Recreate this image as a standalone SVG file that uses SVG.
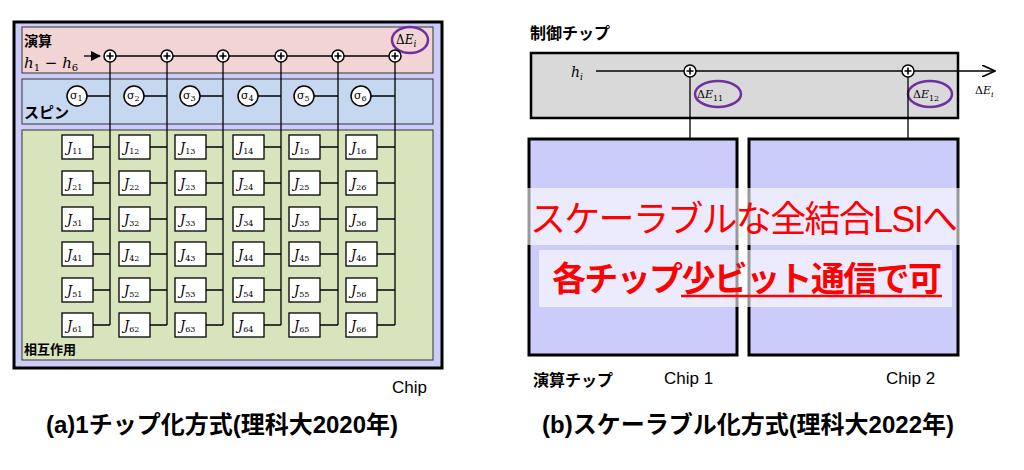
<svg xmlns="http://www.w3.org/2000/svg" width="1024" height="470" viewBox="0 0 1024 470">
<style>
.jp{font-family:"Liberation Sans","Noto Sans CJK JP",sans-serif}
.b{font-weight:bold}
.m{font-family:"DejaVu Serif","Liberation Serif",serif;font-style:italic}
.m tspan{font-style:normal}
.m tspan.it{font-style:italic}
.ln{stroke:#000;stroke-width:1.3;fill:none}
.jb{fill:#fff;stroke:#000;stroke-width:1.3}
.pl{fill:#fff;stroke:#000;stroke-width:1.5}
.ell{fill:none;stroke:#7030a0;stroke-width:2.5}
</style>
<defs>
<marker id="ar" markerWidth="10" markerHeight="10" refX="9" refY="5" orient="auto" markerUnits="userSpaceOnUse"><path d="M0,0 L10,5 L0,10 z" fill="#000"/></marker>
<marker id="ar2" markerWidth="14" markerHeight="12" refX="13" refY="6" orient="auto" markerUnits="userSpaceOnUse"><path d="M0,0 L13,6 L0,12" fill="none" stroke="#000" stroke-width="1.6"/></marker>
<g id="plus"><circle r="6" class="pl"/><path d="M-3.5,0H3.5M0,-3.5V3.5" stroke="#000" stroke-width="1.6"/></g>
</defs>
<rect width="1024" height="470" fill="#fff"/>
<g id="chipA">
<rect x="14" y="22" width="428" height="346" fill="#ccccf8" stroke="#000" stroke-width="3"/>
<rect x="22" y="27" width="411" height="46" fill="#f2d4d4" stroke="#333" stroke-width="1"/>
<rect x="22" y="79" width="411" height="45" fill="#c6d8f0" stroke="#333" stroke-width="1"/>
<rect x="22" y="130" width="411" height="230" fill="#d8e4bc" stroke="#333" stroke-width="1"/>
<text x="24" y="46" class="jp b" font-size="14">演算</text>
<text x="24" y="68" class="m" font-size="15">h<tspan font-size="10" dy="3">1</tspan><tspan dy="-3"> − </tspan><tspan class="it">h</tspan><tspan font-size="10" dy="3">6</tspan></text>
<text x="24" y="118" class="jp b" font-size="15">スピン</text>
<text x="24" y="354" class="jp b" font-size="13">相互作用</text>
<text x="396" y="44" class="m" font-size="12"><tspan>Δ</tspan>E<tspan class="it" font-size="9" dy="3">i</tspan></text>
<ellipse cx="410" cy="40" rx="18" ry="13" class="ell"/>
<text x="392" y="393" class="jp" font-size="17">Chip</text>
</g>
<g id="ctrl">
<text x="530" y="39" class="jp b" font-size="16">制御チップ</text>
<rect x="531" y="53" width="427" height="65" fill="#d9d9d9" stroke="#000" stroke-width="2.5"/>
<text x="571" y="77" class="m" font-size="14">h<tspan class="it" font-size="9" dy="3">i</tspan></text>
<text x="975" y="94" class="m" font-size="11"><tspan>Δ</tspan>E<tspan class="it" font-size="8" dy="3">i</tspan></text>
<text x="697" y="98" class="m" font-size="11"><tspan>Δ</tspan>E<tspan font-size="8" dy="3">11</tspan></text>
<text x="913" y="98" class="m" font-size="11"><tspan>Δ</tspan>E<tspan font-size="8" dy="3">12</tspan></text>
<ellipse cx="718" cy="94" rx="23" ry="13" class="ell"/>
<ellipse cx="930" cy="94" rx="22" ry="13" class="ell"/>
</g>
<g id="connectors">
<path class="ln" d="M84,56H100" marker-end="url(#ar)"/>
<path class="ln" d="M110,56H395"/>
<path class="ln" d="M110,56V325M167,56V325M223,56V325M281,56V325M338,56V325M395,56V325"/>
<path class="ln" d="M87,96H110M144,96H167M200,96H223M258,96H281M314,96H338M371,96H395"/>
<path class="ln" d="M93,147H110M93,183H110M93,219H110M93,254H110M93,290H110M93,325H110"/>
<path class="ln" d="M150,147H167M150,183H167M150,219H167M150,254H167M150,290H167M150,325H167"/>
<path class="ln" d="M206,147H223M206,183H223M206,219H223M206,254H223M206,290H223M206,325H223"/>
<path class="ln" d="M264,147H281M264,183H281M264,219H281M264,254H281M264,290H281M264,325H281"/>
<path class="ln" d="M320,147H338M320,183H338M320,219H338M320,254H338M320,290H338M320,325H338"/>
<path class="ln" d="M377,147H395M377,183H395M377,219H395M377,254H395M377,290H395M377,325H395"/>
<path class="ln" d="M596,71H995" stroke-width="1.6" marker-end="url(#ar2)"/>
<path class="ln" d="M690,71V138M908,71V138"/>
</g>
<g id="plusA">
<use href="#plus" x="110" y="56"/><use href="#plus" x="167" y="56"/><use href="#plus" x="223" y="56"/><use href="#plus" x="281" y="56"/><use href="#plus" x="338" y="56"/><use href="#plus" x="395" y="56"/>
</g>
<g id="spins" font-family="DejaVu Serif,serif" font-size="11">
<g id="s1"><circle cx="77" cy="96" r="10" class="pl"/><text x="70" y="99">σ<tspan font-size="8" dy="2">1</tspan></text></g>
<g id="s2"><circle cx="134" cy="96" r="10" class="pl"/><text x="127" y="99">σ<tspan font-size="8" dy="2">2</tspan></text></g>
<g id="s3"><circle cx="190" cy="96" r="10" class="pl"/><text x="183" y="99">σ<tspan font-size="8" dy="2">3</tspan></text></g>
<g id="s4"><circle cx="248" cy="96" r="10" class="pl"/><text x="241" y="99">σ<tspan font-size="8" dy="2">4</tspan></text></g>
<g id="s5"><circle cx="304" cy="96" r="10" class="pl"/><text x="297" y="99">σ<tspan font-size="8" dy="2">5</tspan></text></g>
<g id="s6"><circle cx="361" cy="96" r="10" class="pl"/><text x="354" y="99">σ<tspan font-size="8" dy="2">6</tspan></text></g>
</g>
<g id="Jgrid" class="m" font-size="13">
<g id="J1">
<rect x="62" y="135" width="31" height="24" class="jb"/><text x="67" y="152">J<tspan font-size="8" dy="2">11</tspan></text>
<rect x="119" y="135" width="31" height="24" class="jb"/><text x="124" y="152">J<tspan font-size="8" dy="2">12</tspan></text>
<rect x="175" y="135" width="31" height="24" class="jb"/><text x="180" y="152">J<tspan font-size="8" dy="2">13</tspan></text>
<rect x="233" y="135" width="31" height="24" class="jb"/><text x="238" y="152">J<tspan font-size="8" dy="2">14</tspan></text>
<rect x="289" y="135" width="31" height="24" class="jb"/><text x="294" y="152">J<tspan font-size="8" dy="2">15</tspan></text>
<rect x="346" y="135" width="31" height="24" class="jb"/><text x="351" y="152">J<tspan font-size="8" dy="2">16</tspan></text>
</g>
<g id="J2">
<rect x="62" y="171" width="31" height="24" class="jb"/><text x="67" y="188">J<tspan font-size="8" dy="2">21</tspan></text>
<rect x="119" y="171" width="31" height="24" class="jb"/><text x="124" y="188">J<tspan font-size="8" dy="2">22</tspan></text>
<rect x="175" y="171" width="31" height="24" class="jb"/><text x="180" y="188">J<tspan font-size="8" dy="2">23</tspan></text>
<rect x="233" y="171" width="31" height="24" class="jb"/><text x="238" y="188">J<tspan font-size="8" dy="2">24</tspan></text>
<rect x="289" y="171" width="31" height="24" class="jb"/><text x="294" y="188">J<tspan font-size="8" dy="2">25</tspan></text>
<rect x="346" y="171" width="31" height="24" class="jb"/><text x="351" y="188">J<tspan font-size="8" dy="2">26</tspan></text>
</g>
<g id="J3">
<rect x="62" y="207" width="31" height="24" class="jb"/><text x="67" y="224">J<tspan font-size="8" dy="2">31</tspan></text>
<rect x="119" y="207" width="31" height="24" class="jb"/><text x="124" y="224">J<tspan font-size="8" dy="2">32</tspan></text>
<rect x="175" y="207" width="31" height="24" class="jb"/><text x="180" y="224">J<tspan font-size="8" dy="2">33</tspan></text>
<rect x="233" y="207" width="31" height="24" class="jb"/><text x="238" y="224">J<tspan font-size="8" dy="2">34</tspan></text>
<rect x="289" y="207" width="31" height="24" class="jb"/><text x="294" y="224">J<tspan font-size="8" dy="2">35</tspan></text>
<rect x="346" y="207" width="31" height="24" class="jb"/><text x="351" y="224">J<tspan font-size="8" dy="2">36</tspan></text>
</g>
<g id="J4">
<rect x="62" y="242" width="31" height="24" class="jb"/><text x="67" y="259">J<tspan font-size="8" dy="2">41</tspan></text>
<rect x="119" y="242" width="31" height="24" class="jb"/><text x="124" y="259">J<tspan font-size="8" dy="2">42</tspan></text>
<rect x="175" y="242" width="31" height="24" class="jb"/><text x="180" y="259">J<tspan font-size="8" dy="2">43</tspan></text>
<rect x="233" y="242" width="31" height="24" class="jb"/><text x="238" y="259">J<tspan font-size="8" dy="2">44</tspan></text>
<rect x="289" y="242" width="31" height="24" class="jb"/><text x="294" y="259">J<tspan font-size="8" dy="2">45</tspan></text>
<rect x="346" y="242" width="31" height="24" class="jb"/><text x="351" y="259">J<tspan font-size="8" dy="2">46</tspan></text>
</g>
<g id="J5">
<rect x="62" y="278" width="31" height="24" class="jb"/><text x="67" y="295">J<tspan font-size="8" dy="2">51</tspan></text>
<rect x="119" y="278" width="31" height="24" class="jb"/><text x="124" y="295">J<tspan font-size="8" dy="2">52</tspan></text>
<rect x="175" y="278" width="31" height="24" class="jb"/><text x="180" y="295">J<tspan font-size="8" dy="2">53</tspan></text>
<rect x="233" y="278" width="31" height="24" class="jb"/><text x="238" y="295">J<tspan font-size="8" dy="2">54</tspan></text>
<rect x="289" y="278" width="31" height="24" class="jb"/><text x="294" y="295">J<tspan font-size="8" dy="2">55</tspan></text>
<rect x="346" y="278" width="31" height="24" class="jb"/><text x="351" y="295">J<tspan font-size="8" dy="2">56</tspan></text>
</g>
<g id="J6">
<rect x="62" y="313" width="31" height="24" class="jb"/><text x="67" y="330">J<tspan font-size="8" dy="2">61</tspan></text>
<rect x="119" y="313" width="31" height="24" class="jb"/><text x="124" y="330">J<tspan font-size="8" dy="2">62</tspan></text>
<rect x="175" y="313" width="31" height="24" class="jb"/><text x="180" y="330">J<tspan font-size="8" dy="2">63</tspan></text>
<rect x="233" y="313" width="31" height="24" class="jb"/><text x="238" y="330">J<tspan font-size="8" dy="2">64</tspan></text>
<rect x="289" y="313" width="31" height="24" class="jb"/><text x="294" y="330">J<tspan font-size="8" dy="2">65</tspan></text>
<rect x="346" y="313" width="31" height="24" class="jb"/><text x="351" y="330">J<tspan font-size="8" dy="2">66</tspan></text>
</g>
</g>
<text x="222" y="433" text-anchor="middle" class="jp b" font-size="24">(a)1チップ化方式(理科大2020年)</text>
<g id="plusB"><use href="#plus" x="690" y="71"/><use href="#plus" x="908" y="71"/></g>
<g id="chip1"><rect x="529" y="139" width="208" height="216" fill="#ccccfa" stroke="#000" stroke-width="3"/></g>
<g id="chip2"><rect x="749" y="139" width="209" height="216" fill="#ccccfa" stroke="#000" stroke-width="3"/></g>
<rect x="527" y="188" width="448" height="57" fill="#fff" fill-opacity="0.6"/>
<rect x="539" y="250" width="413" height="57" fill="#fff" fill-opacity="0.6"/>
<text x="744" y="232" text-anchor="middle" class="jp" font-size="36" fill="#ff0000" textLength="428">スケーラブルな全結合LSIへ</text>
<text x="747" y="291" text-anchor="middle" class="jp b" font-size="34" fill="#ff0000" textLength="390">各チップ少ビット通信で可</text>
<path d="M681,296H942" stroke="#ff0000" stroke-width="2.5"/>
<text x="533" y="386" class="jp b" font-size="16">演算チップ</text>
<text x="664" y="384" class="jp" font-size="17">Chip 1</text>
<text x="886" y="384" class="jp" font-size="17">Chip 2</text>
<text x="748" y="433" text-anchor="middle" class="jp b" font-size="24">(b)スケーラブル化方式(理科大2022年)</text>
</svg>
